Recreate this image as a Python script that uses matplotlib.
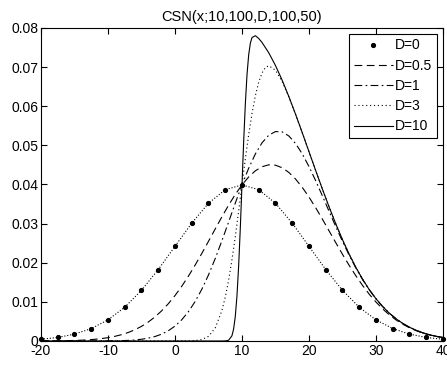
import numpy as np
import matplotlib.pyplot as plt

plt.rcParams['font.family'] = ['Liberation Sans', 'DejaVu Sans']
plt.rcParams['axes.unicode_minus'] = False

# D=0 (plotted as dots, every 2.5)
x_d0 = [-20, -17.5, -15, -12.5, -10, -7.5, -5, -2.5, 0, 2.5, 5, 7.5, 10,
        12.5, 15, 17.5, 20, 22.5, 25, 27.5, 30, 32.5, 35, 37.5, 40]
y_d0 = [0.00044, 0.00091, 0.00175, 0.00317, 0.00540, 0.00863, 0.01295, 0.01826, 0.02420,
        0.03011, 0.03521, 0.03867, 0.03989, 0.03867, 0.03521, 0.03011, 0.02420, 0.01826,
        0.01295, 0.00863, 0.00540, 0.00317, 0.00175, 0.00091, 0.00044]

# D=0.5 and D=1, integer x from -20 to 40
x_int = list(range(-20, 41))
y_d05 = [0.000015, 0.000024, 0.000038, 0.000058, 0.000090, 0.000135, 0.000201, 0.000294,
         0.000425, 0.000605, 0.000849, 0.001176, 0.001603, 0.002158, 0.002859, 0.003740,
         0.004825, 0.006134, 0.007694, 0.009511, 0.011604, 0.013960, 0.016559, 0.019378,
         0.022374, 0.025474, 0.028620, 0.031732, 0.034710, 0.037456, 0.039895, 0.041934,
         0.043500, 0.044548, 0.045030, 0.044936, 0.044276, 0.043072, 0.041381, 0.039260,
         0.036786, 0.034059, 0.031146, 0.028136, 0.025125, 0.022160, 0.019321, 0.016653,
         0.014187, 0.011944, 0.009951, 0.008195, 0.006665, 0.005376, 0.004279, 0.003375,
         0.002630, 0.002022, 0.001542, 0.001166, 0.000875]
y_d1 = [0.0, 0.0, 0.0, 0.0, 0.0, 0.0, 0.000001, 0.000002, 0.000006, 0.000013, 0.000025,
        0.000047, 0.000087, 0.000152, 0.000262, 0.000438, 0.000716, 0.001131, 0.001740,
        0.002610, 0.003803, 0.005402, 0.007468, 0.010061, 0.013203, 0.016884, 0.021049,
        0.025607, 0.030392, 0.035233, 0.039895, 0.044157, 0.047818, 0.050673, 0.052601,
        0.053526, 0.053447, 0.052389, 0.050472, 0.047818, 0.044586, 0.040960, 0.037100,
        0.033139, 0.029234, 0.025462, 0.021918, 0.018658, 0.015703, 0.013073, 0.010775,
        0.008788, 0.007084, 0.005667, 0.004479, 0.00351, 0.00272, 0.00208, 0.00158,
        0.00119, 0.00089]

# D=3
x_d3 = [-20, -10, 0, 1, 2, 3, 4, 5, 6, 7, 7.5, 8, 8.5, 9, 9.5, 10, 10.5, 11, 11.5, 12,
        12.5, 13, 13.5, 14, 15, 16, 17, 18, 19, 20, 21, 22, 23, 24, 25, 26, 27, 28, 29, 30,
        31, 32, 33, 34, 35, 36, 37, 38, 39, 40]
y_d3 = [0.0, 0.0, 0.0000005, 0.0000036, 0.0000197, 0.0000937, 0.000367, 0.00119, 0.00330,
        0.00774, 0.01117, 0.01549, 0.02070, 0.02665, 0.03315, 0.03990, 0.04654, 0.05274,
        0.05820, 0.06272, 0.06617, 0.06854, 0.06989, 0.07035, 0.06922, 0.06628, 0.06236,
        0.05792, 0.05322, 0.04839, 0.04357, 0.03884, 0.03427, 0.02995, 0.02590, 0.02218,
        0.01881, 0.01579, 0.01312, 0.01080, 0.00880, 0.00709, 0.00567, 0.00448, 0.00351,
        0.00272, 0.00208, 0.00158, 0.00119, 0.00089]

# D=10
x_d10 = [-20, 0, 7, 7.5, 8, 8.5, 8.75, 9, 9.25, 9.5, 9.75, 10, 10.25, 10.5, 10.75, 11,
         11.25, 11.5, 12, 12.5, 13, 14, 15, 16, 17, 18, 19, 20, 21, 22, 23, 24, 25, 26,
         27, 28, 29, 30, 31, 32, 33, 34, 35, 36, 37, 38, 39, 40]
y_d10 = [0.0, 0.0, 0.0, 0.0000157, 0.000182, 0.00133, 0.00305, 0.00624, 0.01149, 0.01911,
         0.02886, 0.03990, 0.05091, 0.06058, 0.06808, 0.07315, 0.07612, 0.07757, 0.07803,
         0.07732, 0.07628, 0.07365, 0.07041, 0.06665, 0.06245, 0.05794, 0.05322, 0.04839,
         0.04357, 0.03884, 0.03427, 0.02995, 0.02590, 0.02218, 0.01881, 0.01579, 0.01312,
         0.01080, 0.00880, 0.00709, 0.00567, 0.00448, 0.00351, 0.00272, 0.00208, 0.00158,
         0.00119, 0.00089]

fig = plt.figure(figsize=(4.47, 3.65), dpi=100)
ax = fig.add_axes([0.0917, 0.0658, 0.8993, 0.8575])

lw = 0.8
ax.plot(x_d0, y_d0, color='k', ls=':', lw=lw, label='_nolegend_')
ax.plot(x_d0, y_d0, color='k', ls='none', marker='.', ms=5.5, clip_on=False, label='D=0')
ax.plot(x_int, y_d05, color='k', ls=(0, (7, 4)), lw=lw, label='D=0.5')
ax.plot(x_int, y_d1, color='k', ls=(0, (7, 3, 1.5, 3)), lw=lw, label='D=1')
ax.plot(x_d3, y_d3, color='k', ls=(0, (1, 2.5)), lw=lw, label='D=3')
ax.plot(x_d10, y_d10, color='k', ls='-', lw=lw, label='D=10')

ax.set_xlim(-20, 40)
ax.set_ylim(0, 0.08)
ax.set_xticks(np.arange(-20, 41, 10))
ax.set_yticks(np.arange(0, 0.081, 0.01))
ax.set_yticklabels(['0', '0.01', '0.02', '0.03', '0.04', '0.05', '0.06', '0.07', '0.08'])
ax.tick_params(direction='in', top=True, right=True, length=4, width=0.8, labelsize=10, pad=2)
for s in ax.spines.values():
    s.set_linewidth(0.8)

ax.set_title('CSN(x;10,100,D,100,50)', fontsize=10.5, pad=5)

leg = ax.legend(loc='upper right', fontsize=10, fancybox=False, framealpha=1, edgecolor='k',
                borderaxespad=0.45, labelspacing=0.45, handlelength=2.8, handletextpad=0.2,
                borderpad=0.3)
leg.get_frame().set_linewidth(0.8)

plt.savefig('out.png', dpi=100)
